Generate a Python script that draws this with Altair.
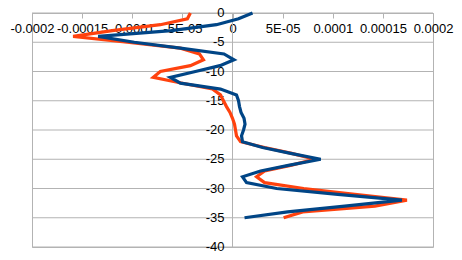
import altair as alt
import pandas as pd

# depth (y) and two series (x, in units of 1E-05)
depth = list(range(0, -36, -1))
series_orange = [-4.2, -4.5, -7.2, -12.0, -15.9, -10.5, -5.2, -3.3, -2.9, -4.2,
                 -7.2, -7.9, -5.0, -2.0, -1.2, -0.9, -0.6, -0.25, 0.0, 0.2,
                 0.3, 0.4, 0.8, 3.2, 5.9, 8.2, 5.9, 3.2, 2.4, 3.2,
                 7.1, 12.2, 17.4, 14.2, 7.0, 5.1]
series_blue = [2.0, 0.6, -1.6, -6.1, -13.4, -9.8, -5.2, -0.85, 0.15, -1.25,
               -3.7, -6.2, -5.2, -1.2, 0.4, 0.6, 0.7, 0.85, 1.15, 1.25,
               1.1, 0.9, 1.0, 3.0, 5.8, 8.8, 5.7, 2.8, 1.0, 1.4,
               4.4, 10.5, 16.9, 11.2, 5.5, 1.2]
unit = 1e-5

x_ticks = [-0.0002, -0.00015, -0.0001, -0.00005, 0, 0.00005, 0.0001, 0.00015, 0.0002]
x_tick_labels = ["-0.0002", "-0.00015", "-0.0001", "-5E-05", "0", "5E-05", "0.0001", "0.00015", "0.0002"]
y_ticks = [0, -5, -10, -15, -20, -25, -30, -35, -40]
y_tick_labels = ["0", "-5", "-10", "-15", "-20", "-25", "-30", "-35", "-40"]

W, H = 401, 234
GRID = "#b3b3b3"
FONT = "Liberation Sans"

df_o = pd.DataFrame({"depth": depth, "v": [v * unit for v in series_orange], "i": range(len(depth))})
df_b = pd.DataFrame({"depth": depth, "v": [v * unit for v in series_blue], "i": range(len(depth))})
df_y = pd.DataFrame({"depth": y_ticks, "lab": y_tick_labels, "v": [0.0] * len(y_ticks)})

label_expr = "[" + ",".join("'" + s + "'" for s in x_tick_labels) + "][round(datum.value/0.00005)+4]"

x_scale = alt.Scale(domain=[-0.0002, 0.0002], nice=False, zero=False)
y_scale = alt.Scale(domain=[-40, 0], nice=False)

x_enc = alt.X("v:Q", scale=x_scale,
              axis=alt.Axis(orient="bottom", offset=-H, values=x_ticks, labelExpr=label_expr,
                            grid=False, domainColor=GRID, tickColor=GRID, tickSize=5,
                            labelPadding=4, labelFont=FONT, labelFontSize=13, labelColor="#000000",
                            labelFlush=False, labelOverlap=False, title=None))
y_enc = alt.Y("depth:Q", scale=y_scale, axis=None)

# horizontal gridlines
grid = alt.Chart(df_y).mark_rule(color=GRID, strokeWidth=1).encode(
    y=y_enc, x=alt.value(0), x2=alt.value(W))
# vertical axis line at x = 0
yline = alt.Chart(df_y).mark_rule(color=GRID, strokeWidth=1).encode(
    x=x_enc, y=alt.value(0), y2=alt.value(H))
# y tick labels next to the x = 0 line
ylabels = alt.Chart(df_y).mark_text(align="right", baseline="middle", dx=-8,
                                    font=FONT, fontSize=13, color="#000000").encode(
    x=x_enc, y=y_enc, text="lab:N")

line_o = alt.Chart(df_o).mark_line(color="#ff420e", strokeWidth=3.2).encode(
    x=x_enc, y=y_enc, order=alt.Order("i:Q"))
line_b = alt.Chart(df_b).mark_line(color="#004586", strokeWidth=3.2).encode(
    x=x_enc, y=y_enc, order=alt.Order("i:Q"))

chart = alt.layer(grid, yline, ylabels, line_o, line_b).properties(
    width=W, height=H,
    autosize=alt.AutoSizeParams(type="none"),
    padding={"left": 32, "top": 13, "right": 29, "bottom": 13},
    background="white",
).configure_view(stroke=GRID, strokeWidth=1)

chart.save("out.html", embed_options={"renderer": "svg", "actions": False})
